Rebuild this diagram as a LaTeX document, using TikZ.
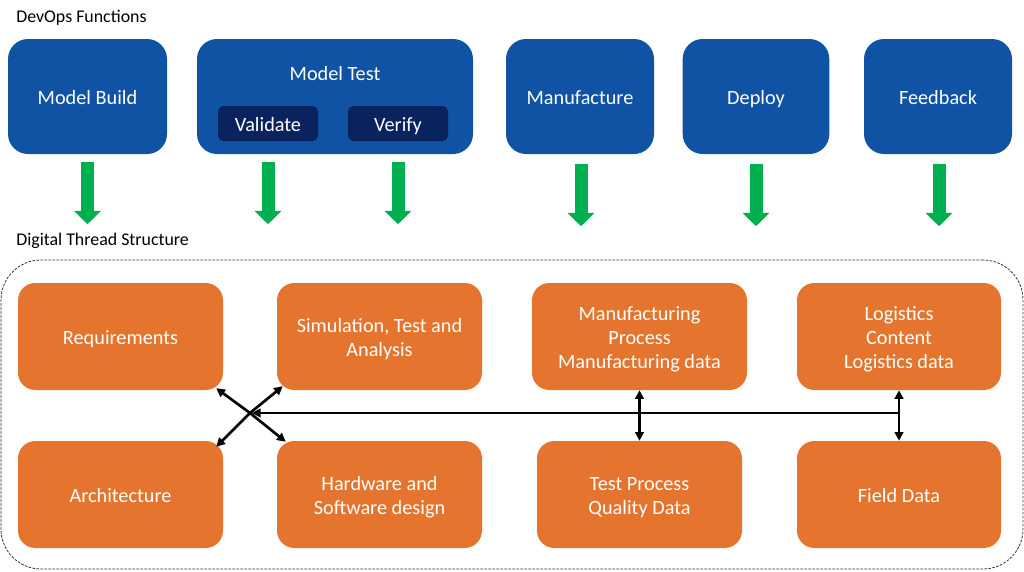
\documentclass[tikz,border=0pt]{standalone}
\usepackage{fontspec}
\setmainfont{Carlito}
\usetikzlibrary{arrows.meta,calc}
\definecolor{topblue}{RGB}{16,82,164}
\definecolor{darkblue}{RGB}{10,34,94}
\definecolor{boxorange}{RGB}{228,116,46}
\definecolor{arrowgreen}{RGB}{0,176,80}
\newcommand{\boxtext}[1]{\raisebox{0pt}[\dimexpr\height+5.2pt\relax][\depth]{\begin{tabular}{@{}c@{}}#1\end{tabular}}}
\begin{document}
\begin{tikzpicture}[x=0.75pt,y=-0.75pt,
  boxfont/.style={font=\fontsize{15.2}{18}\selectfont},
  bluebox/.style={boxfont, fill=topblue, draw=none, rounded corners=15pt, text=white, inner sep=0pt, minimum height=86.25pt},
  innerbox/.style={boxfont, fill=darkblue, draw=none, rounded corners=4pt, text=white, inner sep=0pt, minimum width=75pt, minimum height=26.25pt},
  orangebox/.style={boxfont, fill=boxorange, draw=none, rounded corners=13pt, text=white, inner sep=0pt, minimum height=80.25pt},
  heading/.style={anchor=base west, font=\fontsize{13.4}{16}\selectfont, inner sep=0pt},
  greenarrow/.style={draw=arrowgreen, line width=9.75pt, -{Triangle[width=19.5pt,length=10pt]}},
  link/.style={draw=black, line width=2pt, >={Triangle[length=6.5pt,width=6.5pt]}},
  frame/.style={draw=black!80, line width=0.6pt, dash pattern=on 2pt off 1pt, rounded corners=30pt, inner sep=0pt}
]
\useasboundingbox (0,0) rectangle (1024,571);

% headings
\node[heading] (devops) at (16,22.5) {DevOps Functions};
\node[heading] (thread) at (16,245) {Digital Thread Structure};

% top row
\node[bluebox, minimum width=119.25pt] (mb) at (87.5,96.5) {\boxtext{Model Build}};
\node[bluebox, minimum width=207pt] (mt) at (335,96.5) {};
\node[boxfont, text=white, inner sep=0pt] (mtlabel) at (335,72.5) {\boxtext{Model Test}};
\node[innerbox] (val) at (268,123.5) {\boxtext{Validate}};
\node[innerbox] (ver) at (398,123.5) {\boxtext{Verify}};
\node[bluebox, minimum width=111pt] (man) at (580,96.5) {\boxtext{Manufacture}};
\node[bluebox, minimum width=110pt] (dep) at (756,96.5) {\boxtext{Deploy}};
\node[bluebox, minimum width=111pt] (fb) at (938,96.5) {\boxtext{Feedback}};

% green arrows
\draw[greenarrow] ($(mb.south)+(0,8)$) -- ++(0,62);
\draw[greenarrow] ($(val |- mt.south)+(0,8)$) -- ++(0,62);
\draw[greenarrow] ($(ver |- mt.south)+(0,8)$) -- ++(0,62);
\draw[greenarrow] ($(man.south)+(1,10)$) -- ++(0,62);
\draw[greenarrow] ($(dep.south)+(0,10)$) -- ++(0,62);
\draw[greenarrow] ($(fb.south)+(1,10)$) -- ++(0,62);

% dashed frame
\node[frame, minimum width=766.5pt, minimum height=231.75pt] (frm) at (512,414.5) {};

% orange boxes
\node[orangebox, minimum width=153.75pt] (req) at (120.5,336.5) {\boxtext{Requirements}};
\node[orangebox, minimum width=153.75pt] (sim) at (379.5,336.5) {\boxtext{Simulation, Test and\\Analysis}};
\node[orangebox, minimum width=161.25pt] (mfg) at (639.5,336.5) {\boxtext{Manufacturing\\Process\\Manufacturing data}};
\node[orangebox, minimum width=153pt] (log) at (899,336.5) {\boxtext{Logistics\\Content\\Logistics data}};
\node[orangebox, minimum width=153.75pt] (arch) at (120.5,494.5) {\boxtext{Architecture}};
\node[orangebox, minimum width=153.75pt] (hw) at (379.5,494.5) {\boxtext{Hardware and\\Software design}};
\node[orangebox, minimum width=153.75pt] (tp) at (639.5,494.5) {\boxtext{Test Process\\Quality Data}};
\node[orangebox, minimum width=153pt] (fd) at (899,494.5) {\boxtext{Field Data}};

% connectors
\coordinate (hub) at (250,413);
\draw[link,->] (hub) -- ($(req.south east)+(-7,-2)$);
\draw[link,->] (hub) -- ($(sim.south west)+(6,-4)$);
\draw[link,->] (hub) -- ($(arch.north east)+(-7,6)$);
\draw[link,->] (hub) -- ($(hw.north west)+(9,1)$);
\draw[link,->] (log.south |- hub) -- ($(hub)+(2,0)$);
\draw[link,<->] (mfg.south) -- (tp.north);
\draw[link,<->] (log.south) -- (fd.north);
\end{tikzpicture}
\end{document}
